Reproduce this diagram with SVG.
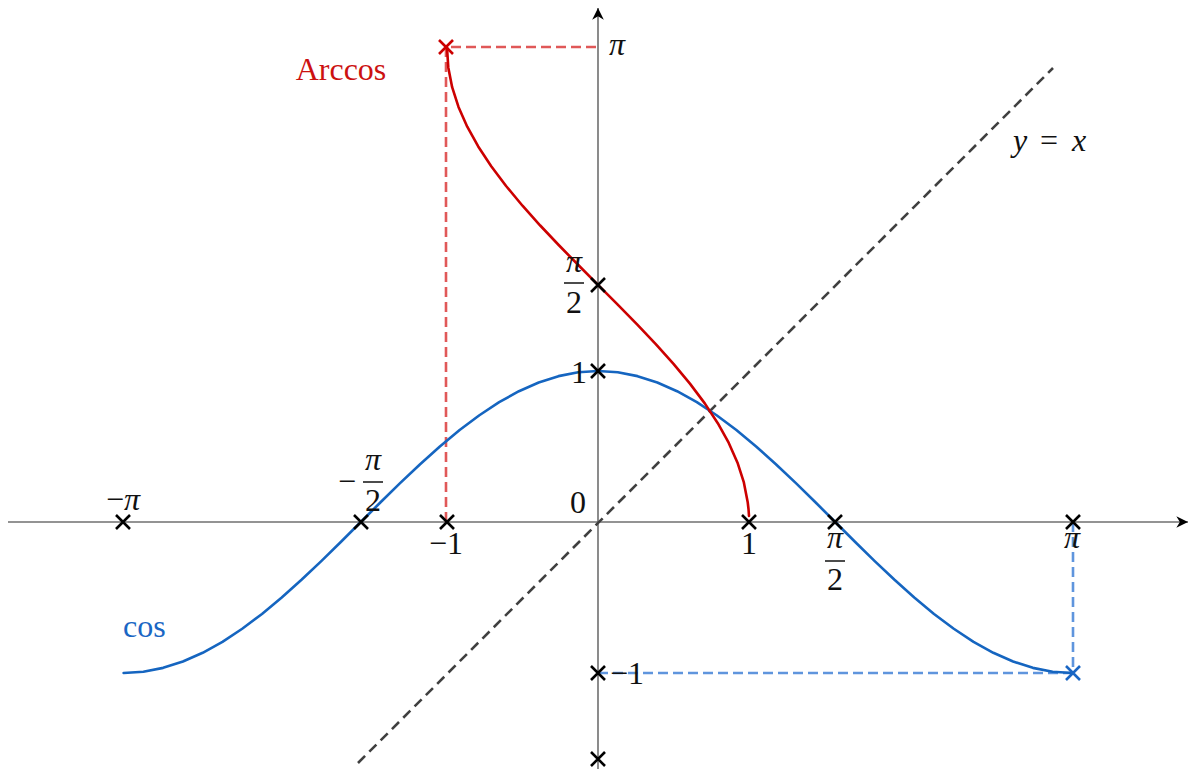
<svg xmlns="http://www.w3.org/2000/svg" width="1192" height="769" viewBox="0 0 1192 769">
<style>
.axis{stroke:#6f6f6f;stroke-width:1.6;fill:none}
.cos{stroke:#1565c0;stroke-width:2.6;fill:none;stroke-linejoin:round;stroke-linecap:round}
.acos{stroke:#cc0000;stroke-width:2.6;fill:none;stroke-linejoin:round;stroke-linecap:round}
.idl{stroke:#404040;stroke-width:2.6;fill:none;stroke-dasharray:10 6}
.rdash{stroke:#e05858;stroke-width:2.6;fill:none;stroke-dasharray:10 5}
.bdash{stroke:#5f95dd;stroke-width:2.6;fill:none;stroke-dasharray:10 5}
.cross{stroke:#000;stroke-width:2.6;fill:none}
.crossR{stroke:#cc0000;stroke-width:2.6;fill:none}
.crossB{stroke:#1a66c4;stroke-width:2.6;fill:none}
.m{text-anchor:middle}
.i{font-style:italic}
.bar{stroke:#111;stroke-width:1.5}
</style>
<defs>
<marker id="arr" markerUnits="userSpaceOnUse" markerWidth="14" markerHeight="14" refX="10" refY="5" orient="auto" viewBox="0 0 12 10">
<path d="M0,0 L10,5 L0,10 L3,5 z" fill="#000"/>
</marker>
<path id="x" d="M-7,-7 L7,7 M-7,7 L7,-7"/>
</defs>
<g id="axes">
<line class="axis" x1="8" y1="522" x2="1188" y2="522" marker-end="url(#arr)"/>
<line class="axis" x1="598" y1="769" x2="598" y2="8" marker-end="url(#arr)"/>
</g>
<g id="connectors">
<line class="idl" x1="358" y1="763" x2="1053" y2="68"/>
<path class="rdash" d="M446,522 L446,47 L598,47"/>
<path class="bdash" d="M1073,522 L1073,673 M598,673 L1073,673"/>
</g>
<g id="cos-curve">
<polyline class="cos" points="123.62,673 143.38,671.71 163.15,667.86 182.91,661.51 202.68,652.77 222.45,641.8 242.21,628.77 261.98,613.92 281.74,597.5 301.51,579.78 321.28,561.08 341.04,541.71 360.81,522 380.57,502.29 400.34,482.92 420.11,464.22 439.87,446.5 459.64,430.08 479.4,415.23 499.17,402.2 518.94,391.23 538.7,382.49 558.47,376.14 578.23,372.29 598,371 617.77,372.29 637.53,376.14 657.3,382.49 677.06,391.23 696.83,402.2 716.6,415.23 736.36,430.08 756.13,446.5 775.89,464.22 795.66,482.92 815.43,502.29 835.19,522 854.96,541.71 874.72,561.08 894.49,579.78 914.26,597.5 934.02,613.92 953.79,628.77 973.55,641.8 993.32,652.77 1013.09,661.51 1032.85,667.86 1052.62,671.71 1072.38,673"/>
</g>
<g id="arccos-curve">
<polyline class="acos" points="749,516 748.5,509 747.71,502.23 743.86,482.47 737.51,462.7 728.77,442.94 717.8,423.17 704.77,403.4 689.92,383.64 673.5,363.87 655.78,344.11 637.08,324.34 617.71,304.57 598,284.81 578.29,265.04 558.92,245.28 540.22,225.51 522.5,205.74 506.08,185.98 491.23,166.21 478.2,146.45 467.23,126.68 458.49,106.91 452.14,87.15 448.29,67.38 447,47.62"/>
</g>
<g id="marks">
<use href="#x" class="cross" x="123" y="522"/>
<use href="#x" class="cross" x="361" y="522"/>
<use href="#x" class="cross" x="447" y="522"/>
<use href="#x" class="cross" x="749" y="522"/>
<use href="#x" class="cross" x="835" y="522"/>
<use href="#x" class="cross" x="1073" y="522"/>
<use href="#x" class="cross" x="598" y="285"/>
<use href="#x" class="cross" x="598" y="371"/>
<use href="#x" class="cross" x="598" y="673"/>
<use href="#x" class="cross" x="598" y="759"/>
<use href="#x" class="crossR" x="446" y="47"/>
<use href="#x" class="crossB" x="1073" y="673"/>
</g>
<g id="labels" font-family="'Liberation Serif', 'DejaVu Serif', serif" font-size="32" fill="#111">
<text class="m" x="123" y="510">−<tspan class="i">π</tspan></text>
<g id="lbl-mpi2">
<text class="m" x="347" y="492">−</text>
<text class="m i" x="373" y="470">π</text>
<line class="bar" x1="363" y1="482" x2="383" y2="482"/>
<text class="m" x="373" y="511">2</text>
</g>
<text class="m" x="446" y="554">−1</text>
<text class="m" x="578" y="513">0</text>
<text class="m" x="749" y="554">1</text>
<g id="lbl-pi2x">
<text class="m i" x="835" y="548">π</text>
<line class="bar" x1="825" y1="561" x2="845" y2="561"/>
<text class="m" x="835" y="590">2</text>
</g>
<text class="m i" x="1072" y="548">π</text>
<text class="i" x="609" y="55">π</text>
<g id="lbl-pi2y">
<text class="m i" x="574" y="272">π</text>
<line class="bar" x1="564" y1="283" x2="584" y2="283"/>
<text class="m" x="574" y="313">2</text>
</g>
<text class="m" x="579" y="383">1</text>
<text x="610" y="684">−1</text>
<text class="m" x="341" y="80" fill="#cc1111">Arccos</text>
<text x="123" y="637" fill="#1a66c4">cos</text>
<text y="151"><tspan class="i" x="1013">y</tspan><tspan x="1040">=</tspan><tspan class="i" x="1072">x</tspan></text>
</g>
</svg>
